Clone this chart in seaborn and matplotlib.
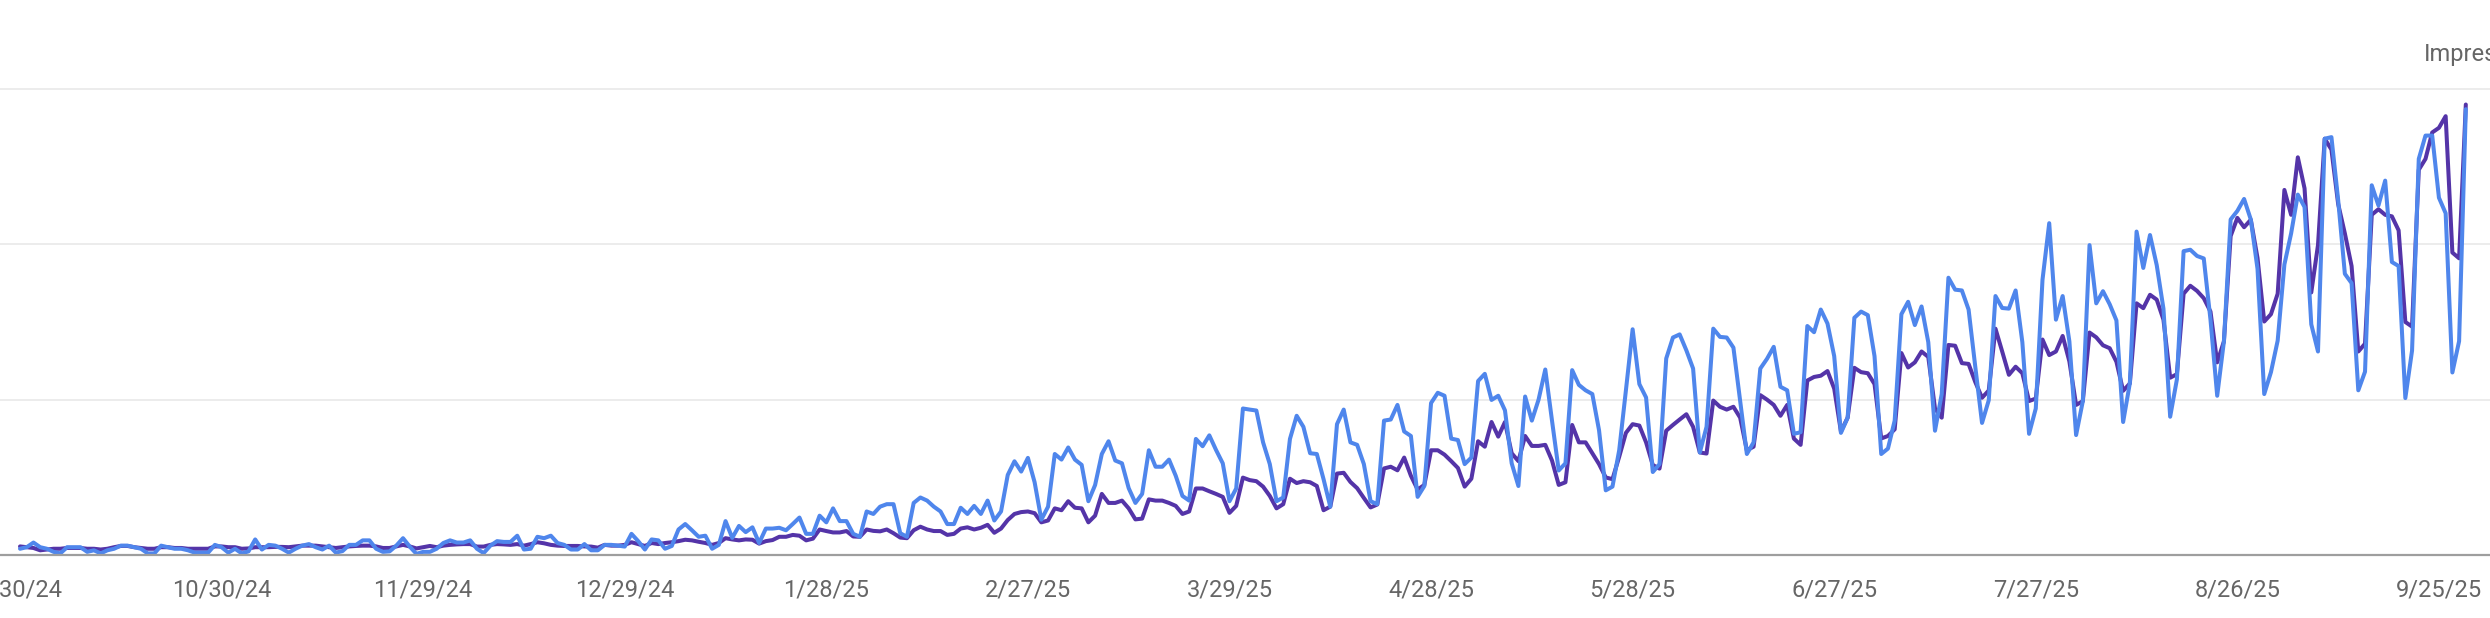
import numpy as np
import pandas as pd
import matplotlib
matplotlib.use('Agg')
import matplotlib.pyplot as plt
import seaborn as sns

# daily values, 9/30/24 .. 9/29/25, in chart units (one gridline = 100)
start_date = '2024-09-30'

clicks = [
    4, 5, 8, 5, 4, 2, 1, 5, 5, 5, 2, 3, 1, 3, 4, 6, 6, 5, 4, 1, 1, 6, 5, 4, 4, 3, 1.5, 1.5,
    1.5, 6.5, 5, 1.5, 4, 1, 2.3, 10, 3.5, 6.5, 6, 4, 1.5, 4, 6, 7, 5, 3.5, 6, 1.5, 2.5,
    6.5, 6.5, 9.4, 9.4, 4, 2, 2.3, 6, 10.8, 5.4,
    0.7, 2, 2, 4, 7.7, 9.4, 8, 8, 9.4, 4, 1.2, 6, 8.9, 8.4, 8.4, 12.4, 3.5, 4, 11.7, 10.8,
    12.4, 7.7, 6.5, 3.5, 3.5, 7, 3, 3, 6.5, 6.5, 6,
    5.4, 13.6, 8.9, 3.5, 10, 9.4, 4, 5.8, 16.4, 19.9, 15.9, 11.7, 12.4, 4, 6.5, 21.8, 11,
    18.7, 14.7, 17.8, 7.7, 17, 17, 17.5, 15.9, 19.9, 24.1, 13.6, 13.6, 25.3, 21,
    30, 21.8, 21.8, 13.6, 11.7, 28, 26.4, 31.1, 32.7, 32.7, 14, 11.7, 33.5, 37, 35, 31.1,
    28, 19.9, 19.9, 30.4, 26.4, 31.6, 26.4, 35, 22.2, 28, 51.5, 60.3, 53.7, 62.5, 46.8,
    22.7, 31.1, 65, 61.4, 69.2, 61.4, 58, 34.6, 45, 65, 73.2, 60.8, 59, 43, 33.5, 39.3,
    67.4, 56.8, 56.8, 61.4, 51, 38, 35, 74.7, 70, 77, 67.6, 59, 34.6, 42.8, 94.3,
    93.6, 93, 72.5, 58.5, 34.6, 37, 74.7, 89.6, 82.5, 65.5, 65, 48.8, 31.1, 84.2, 93.6,
    72.5, 70.9, 58.5, 34.6, 32.7, 86.5, 87.2, 96.6, 79.5, 76.6, 37.4, 44.4, 97.8, 104.4,
    102.5, 74.9,
    74, 58.5, 62.7, 112, 116.6, 99.8, 102.5, 93.1, 59, 44.4, 102, 86.5, 100, 119.4, 86.5,
    54.4, 59, 119, 109.5, 106, 103.6, 80.3, 41.6, 44, 67.4, 106, 145.3, 110, 101.4, 53.4,
    58.5,
    126.5, 140, 142, 131.7, 120, 66, 82.5, 145.7, 140.4, 140, 133.5, 99.4, 65, 72.5, 120,
    126.3, 134, 108.3, 106, 78, 79, 147.4, 143.4, 158, 149, 128, 78.6, 88.4, 152.7, 156.7,
    154.4,
    128, 65, 68.5, 86.5, 155, 163, 148, 160, 137, 80, 103.6, 178.5, 170.8, 170.3, 158, 121,
    85, 99.6, 166.7, 159, 158.6, 170.3, 137, 78, 94.3, 177.2, 213.6, 151.5, 166.7, 137.5,
    77.2,
    99, 199.5, 162, 169.8, 161.4, 151, 85.6, 110.6, 208.2, 184.8, 206, 186.6, 158.6, 89,
    113, 195.6, 196.5, 192.5, 190.9, 151.5, 102.5, 137.5, 216, 221.5, 229.2, 216, 184.2,
    103.6, 117.7, 138,
    187, 207, 232, 224, 148.5, 131, 268, 269, 228.6, 181, 175, 106, 118, 238, 225, 241,
    188.6, 186, 101, 131.6, 255, 270, 270, 230, 220, 117.5, 137.6, 287,
]

impressions = [
    5.5, 5, 4.5, 3, 3.5, 4, 4, 4.5, 4.5, 4.5, 4, 4, 3.5, 4, 5, 5.8, 5.8, 5, 4.5, 4, 4, 5, 5,
    4.5, 4.5, 4, 4, 4,
    4, 5.5, 5.5, 5, 5, 4, 4.2, 5, 5, 5, 5.2, 5.2, 5, 5.5, 6, 6, 6, 5.5, 5, 4.5, 5, 5.5, 5.8,
    6, 6, 5.5, 4.5, 4.5, 5.5, 6.5, 5.5,
    4.2, 5, 5.8, 5, 6, 6.5, 6.8, 7, 7, 5.4, 5.4, 6.5, 7, 6.8, 6.5, 7, 6, 7, 8.2, 7.5, 6.5,
    6, 5.8, 5.8, 5.8, 5.5, 5.4, 4.7, 6.5, 6, 6,
    6.5, 8.2, 7, 5.8, 7.7, 7, 7.7, 8.2, 8.9, 9.8, 9.4, 8.5, 7.7, 6.5, 7.7, 10.8, 10, 9.4,
    10, 9.8, 7.3, 8.9, 9.6, 11.7, 11.7, 12.9, 12.4, 9.4, 10.5, 16.4, 15.4,
    14.5, 14.5, 15.4, 11.9, 11.7, 16.4, 15.5, 15.2, 16.4, 14, 11.2, 10.8, 15.9, 18.2, 16.4,
    15.4, 15.4, 12.9, 13.6, 17, 17.8, 16.4, 17.5, 19.4, 14.3, 17, 22.5, 26.4, 27.6, 28, 26.9,
    21, 22.2, 30, 28.8, 34.6, 30.4, 30, 21, 25.3, 39.3, 33.5, 33.5, 35, 30, 22.9, 23.4, 35.8,
    35, 35, 33.5, 31.6, 26.4, 28, 42.8, 42.8, 41, 39.3, 37.4, 27.1, 31.6, 49.8,
    48.2, 47.5, 44, 38, 30, 32.7, 49.1, 46.3, 47.5, 46.8, 44.4, 28.8, 31.1, 52.4, 52.9, 47,
    43, 36.7, 30.6, 32.5, 55.7, 56.8, 54.5, 62.7, 51, 42.1, 45.1, 67.4, 67.4, 64.6, 60.4,
    56, 44, 49.1, 73.2, 69.7, 85.6, 76.2, 85.6, 65.5, 60.4, 76.6, 70.2, 70.2, 70.9, 60.8,
    45.1, 46.8, 83.7, 72.5, 72.5, 65.5, 58.5, 49.9, 48.8, 63.2, 78.6, 84.2, 83.3, 72.5,
    57.9, 55.6,
    80, 83.7, 87.2, 90.6, 82.5, 66, 65.3, 99.4, 95.4, 93.6, 95.4, 88.4, 67.4, 69.7, 102.9,
    100, 96.6, 89.6, 96.6, 74.9, 70.9, 112.3, 114.6, 115.4, 118.4, 107.1, 79.5, 88.4,
    120.5, 117.7, 117,
    110, 75, 76.6, 80.9, 130, 120.7, 124, 131, 127.5, 94.3, 88.4, 135.2, 134.7, 123.5, 123,
    111.3, 101.2, 105.9, 145.7, 131, 116, 121.2, 117, 99.1, 100.7, 138.7, 128.7, 131, 141,
    124.6, 96.6,
    99, 143.2, 140.1, 135, 133.1, 124.4, 105.7, 110.4, 162, 158.9, 167.5, 164.4, 151.5,
    114.1, 116.4, 168.2, 173.3, 170, 165.3, 156.7, 124, 137.5, 205.3, 217, 211, 215.8,
    191.2, 150.3, 155, 168.2,
    235, 219, 256, 236, 169, 199.5, 268, 261, 226, 207, 186, 131, 136, 219, 222.6, 219,
    218, 209, 150, 147, 248, 255, 272, 275, 282.5, 194.7, 191, 290,
]

tick_labels = ['9/30/24', '10/30/24', '11/29/24', '12/29/24', '1/28/25', '2/27/25',
               '3/29/25', '4/28/25', '5/28/25', '6/27/25', '7/27/25', '8/26/25', '9/25/25']

dates = pd.date_range(start_date, periods=len(clicks), freq='D')
df = pd.DataFrame({'date': dates, 'Clicks': clicks, 'Impressions': impressions})
df_long = df.melt(id_vars='date', var_name='metric', value_name='value')

sns.set_style('white')
plt.rcParams['font.family'] = ['Roboto', 'DejaVu Sans']

fig = plt.figure(figsize=(24.9, 6.18), dpi=100)
ax = fig.add_axes([0, 0.102, 1, 0.754])

sns.lineplot(data=df_long, x='date', y='value', hue='metric',
             hue_order=['Impressions', 'Clicks'],
             palette={'Clicks': '#4f86ec', 'Impressions': '#5434a8'},
             estimator=None, linewidth=2.9, legend=False, ax=ax)

t0 = pd.Timestamp(start_date)
ax.set_xlim(t0 - pd.Timedelta(days=2.98), t0 + pd.Timedelta(days=367.6))
ax.set_ylim(0, 300)

# gridlines
for gy in [100, 200, 300]:
    ax.axhline(gy, color='#ebebeb', linewidth=1.3, zorder=0, clip_on=False)
ax.axhline(0, color='#9e9e9e', linewidth=1.6, zorder=3, clip_on=False)

tick_pos = [pd.Timestamp(start_date) + pd.Timedelta(days=30 * i) for i in range(len(tick_labels))]
ax.set_xticks(tick_pos)
ax.set_xticklabels(tick_labels)
ax.tick_params(axis='x', length=0, pad=17, labelsize=17, labelcolor='#666666')
ax.set_yticks([])
ax.set_xlabel('')
ax.set_ylabel('')
for s in ax.spines.values():
    s.set_visible(False)

# right axis title, cut off by the frame as in the source
fig.text(2424 / 2490, 1 - 55 / 618, 'Impressions', fontsize=17, color='#666666',
         ha='left', va='center')

fig.savefig('out.png', dpi=100)
